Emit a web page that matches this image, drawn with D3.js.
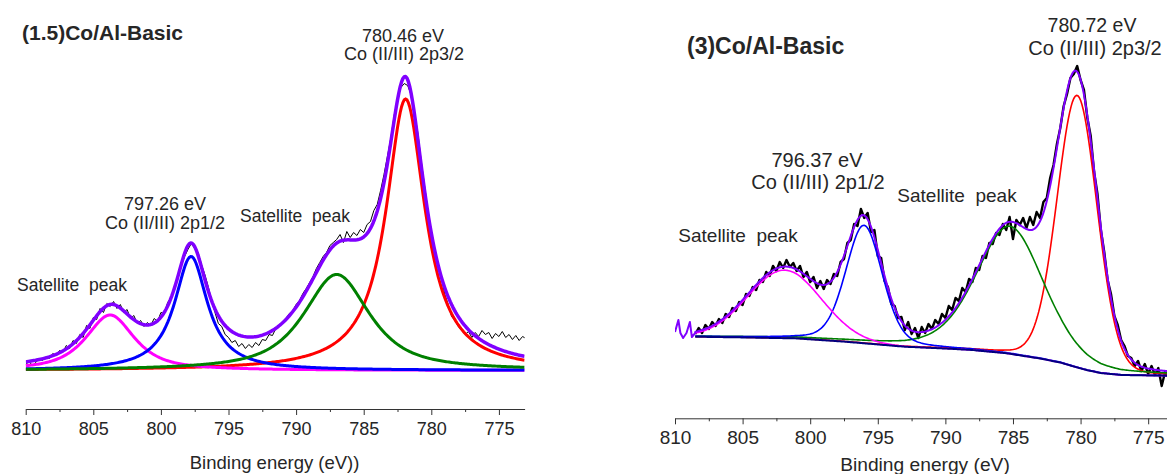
<!DOCTYPE html>
<html>
<head>
<meta charset="utf-8">
<script src="https://cdn.jsdelivr.net/npm/d3@7"></script>
<style>
  html, body { margin: 0; padding: 0; background: #fff; }
  svg { display: block; }
  text { font-family: Arial, "Liberation Sans", sans-serif; fill: #262626; }
</style>
</head>
<body>
<svg id="chart" width="1167" height="474"></svg>
<script>
// ---------- data ----------
var tickEnergies = [810, 805, 800, 795, 790, 785, 780, 775];
var minorEnergies = [807.5, 802.5, 797.5, 792.5, 787.5, 782.5, 777.5];
var rawStep = 0.25;

// (1.5)Co/Al-Basic : measured counts, 810 -> 773 eV every 0.25 eV
var leftRawStart = 810;
var leftRaw = [
  6, 9, 5, 8, 12, 10, 14, 12,
  17, 15, 20, 18, 25, 22, 30, 27,
  36, 33, 45, 42, 53, 51, 62, 58,
  67, 64, 69, 62, 66, 58, 61, 52,
  55, 47, 50, 44, 48, 45, 52, 49,
  58, 57, 68, 73, 84, 92, 104, 114,
  121, 127, 122, 118, 106, 96, 84, 70,
  58, 47, 44, 36, 33, 28, 30, 24,
  27, 22, 26, 23, 28, 25, 31, 30,
  36, 35, 42, 44, 48, 52, 57, 60,
  66, 70, 77, 82, 88, 94, 102, 108,
  114, 118, 125, 128, 131, 136, 128, 139,
  133, 138, 135, 141, 138, 146, 149, 160,
  166, 180, 196, 214, 232, 255, 272, 283,
  287, 285, 276, 258, 238, 210, 185, 160,
  140, 122, 104, 92, 76, 66, 54, 50,
  44, 40, 36, 39, 33, 38, 34, 40,
  36, 38, 32, 37, 34, 39, 33, 36,
  31, 35, 30, 34, 32
];
// fitted peaks: 2p3/2, satellite, 2p1/2, satellite
var leftCenters = [781.9, 787.0, 797.77, 803.76];
var leftHeights = [271.5, 96, 114, 55.5];
var leftFwhm = [3.5, 5.8, 2.96, 4.3];
var leftLorentz = [1, 0.8, 1, 0.8];
var leftRange = [810, 773.1];

// (3)Co/Al-Basic : measured counts, 808.5 -> 773.5 eV every 0.25 eV
var rightRawStart = 808.5;
var rightRaw = [
  46, 52, 47, 55, 51, 58, 54, 61,
  57, 66, 63, 72, 69, 78, 75, 86,
  84, 93, 90, 100, 98, 108, 104, 114,
  109, 118, 112, 120, 113, 117, 109, 114,
  103, 108, 98, 103, 92, 99, 91, 100,
  96, 106, 104, 118, 121, 137, 140, 156,
  154, 171, 162, 167, 148, 150, 124, 122,
  99, 93, 76, 74, 62, 63, 50, 58,
  46, 52, 42, 53, 47, 56, 51, 60,
  56, 66, 62, 74, 70, 82, 79, 92,
  88, 101, 98, 112, 110, 124, 122, 137,
  136, 147, 145, 156, 150, 163, 141, 160,
  155, 162, 152, 163, 155, 168, 162, 178,
  182, 202, 215, 236, 252, 274, 286, 302,
  306, 314, 300, 290, 262, 244, 208, 186,
  150, 128, 100, 86, 64, 55, 40, 34,
  24, 22, 14, 19, 9, 16, 6, 14,
  5, 12, -6, 8, 3
];
// unfitted start of the scan (drawn with the envelope colour)
var rightLeadEnergies = [810, 809.75, 809.6, 809.4, 809.15, 808.9, 808.75, 808.5];
var rightLeadValues = [48, 60, 47, 42, 47, 58, 43, 47];
// Shirley background
var rightBgEnergies = [808.6, 805, 801, 797.5, 793, 790, 788, 785.5, 783, 781.5, 780.5, 779.5, 778.5, 777, 773.6];
var rightBgValues = [43.3, 42.6, 41.6, 38.4, 33.3, 31.5, 30, 26.8, 21.5, 17.5, 13.5, 9.8, 7, 5, 4.3];
var rightCenters = [780.25, 785.22, 796.02, 801.9];
var rightHeights = [272, 127.5, 118, 68];
var rightFwhm = [3.5, 5.92, 3.2, 6.4];
var rightLorentz = [0.1, 0.35, 0.25, 0];
var rightRange = [810, 773.6];

// ---------- drawing ----------
var svg = d3.select("#chart");
var peakColors = ["#ff0000", "#008000", "#0000ff", "#ff00ff"];

function pseudoVoigt(e, c, h, w, eta) {
  var t = (e - c) / w;
  return h * (eta / (1 + 4 * t * t) + (1 - eta) * Math.exp(-4 * Math.LN2 * t * t));
}

function drawPanel(p) {
  var x = d3.scaleLinear().domain(p.domain).range(p.xRange);
  var y = d3.scaleLinear().domain(p.yDomain).range(p.yRange);
  var line = d3.line().x(function(d) { return x(d[0]); }).y(function(d) { return y(d[1]); });

  var g = svg.append("g");
  var clipId = "clip" + p.id;
  g.append("clipPath").attr("id", clipId)
    .append("rect")
    .attr("x", p.xRange[0]).attr("y", 0)
    .attr("width", p.xRange[1] - p.xRange[0]).attr("height", p.axisY);
  var plot = g.append("g").attr("clip-path", "url(#" + clipId + ")");

  var raw = p.raw.map(function(v, i) { return [p.rawStart - i * rawStep, v]; });
  var fitE = d3.range(p.fitFrom, p.fitTo - 0.05, -0.1);
  var bg = p.bg || function() { return 0; };

  var comps = p.centers.map(function(c, k) {
    return fitE.map(function(e) {
      return [e, bg(e) + pseudoVoigt(e, c, p.heights[k], p.fwhm[k], p.lorentz[k])];
    });
  });
  var envelope = fitE.map(function(e) {
    var s = bg(e);
    p.centers.forEach(function(c, k) { s += pseudoVoigt(e, c, p.heights[k], p.fwhm[k], p.lorentz[k]); });
    return [e, s];
  });

  // measured spectrum underneath the fit
  plot.append("path").datum(raw)
    .attr("fill", "none").attr("stroke", "#000")
    .attr("stroke-width", p.rawWidth).attr("stroke-linejoin", "round")
    .attr("d", line);

  p.drawOrder.forEach(function(k) {
    plot.append("path").datum(comps[k])
      .attr("fill", "none").attr("stroke", peakColors[k])
      .attr("stroke-width", p.compWidth)
      .attr("d", line);
  });

  var env = envelope;
  if (p.lead) env = p.lead.concat(envelope);
  plot.append("path").datum(env)
    .attr("fill", "none").attr("stroke", "#8000ff")
    .attr("stroke-width", p.envWidth).attr("stroke-linejoin", "round")
    .attr("d", line);

  if (p.bg) {
    plot.append("path").datum(fitE.map(function(e) { return [e, bg(e)]; }))
      .attr("fill", "none").attr("stroke", "#000080")
      .attr("stroke-width", 2)
      .attr("d", line);
  }

  // axis
  var axis = g.append("g").attr("transform", "translate(0," + p.axisY + ")")
    .call(d3.axisBottom(x).tickValues(tickEnergies).tickSize(6).tickSizeOuter(0)
      .tickPadding(p.tickPad).tickFormat(d3.format("d")));
  axis.selectAll("text").style("font-size", p.tickFont + "px").attr("fill", "#262626");
  axis.selectAll("line, path").attr("stroke", "#333");
  var minor = g.append("g").attr("transform", "translate(0," + p.axisY + ")")
    .call(d3.axisBottom(x).tickValues(minorEnergies).tickSize(3).tickFormat(""));
  minor.select(".domain").remove();
  minor.selectAll("line").attr("stroke", "#333");

  g.append("text").attr("x", p.xTitle[0]).attr("y", p.xTitle[1])
    .attr("text-anchor", "middle").style("font-size", p.xTitle[2] + "px")
    .text(p.xLabel);

  g.append("text").attr("x", p.title[0]).attr("y", p.title[1])
    .style("font-size", p.title[2] + "px").style("font-weight", "bold")
    .attr("fill", "#111").text(p.name);

  p.notes.forEach(function(n) {
    g.append("text").attr("x", n[0]).attr("y", n[1])
      .attr("text-anchor", "middle").style("font-size", n[2] + "px")
      .style("white-space", "pre").text(n[3]);
  });
}

drawPanel({
  id: "L", name: "(1.5)Co/Al-Basic",
  domain: leftRange, xRange: [25.7, 524.6],
  yDomain: [0, 300], yRange: [370.5, 70.5],
  raw: leftRaw, rawStart: leftRawStart,
  fitFrom: leftRange[0], fitTo: leftRange[1],
  centers: leftCenters, heights: leftHeights, fwhm: leftFwhm, lorentz: leftLorentz,
  drawOrder: [0, 3, 2, 1],
  rawWidth: 1, compWidth: 3, envWidth: 3.5,
  axisY: 409, tickPad: 7, tickFont: 18,
  xLabel: "Binding energy (eV))", xTitle: [274.6, 469, 18.5],
  title: [22, 40, 21],
  notes: [
    [403, 41.5, 18, "780.46 eV"],
    [404, 60, 18, "Co (II/III) 2p3/2"],
    [165, 210, 18, "797.26 eV"],
    [165, 229, 18, "Co (II/III) 2p1/2"],
    [295, 221.5, 17.5, "Satellite  peak"],
    [72, 291, 17.5, "Satellite  peak"]
  ]
});

drawPanel({
  id: "R", name: "(3)Co/Al-Basic",
  domain: rightRange, xRange: [675, 1167.1],
  yDomain: [0, 320], yRange: [380, 60],
  raw: rightRaw, rawStart: rightRawStart,
  fitFrom: 808.5, fitTo: rightRange[1],
  centers: rightCenters, heights: rightHeights, fwhm: rightFwhm, lorentz: rightLorentz,
  bg: d3.scaleLinear().domain(rightBgEnergies).range(rightBgValues).clamp(true),
  lead: rightLeadEnergies.map(function(e, i) { return [e, rightLeadValues[i]]; }),
  drawOrder: [0, 1, 2, 3],
  rawWidth: 2.4, compWidth: 1.6, envWidth: 2,
  axisY: 418.3, tickPad: 6, tickFont: 19,
  xLabel: "Binding energy (eV)", xTitle: [925, 471, 19.2],
  title: [687, 53.5, 23],
  notes: [
    [1092, 32, 19.5, "780.72 eV"],
    [1095, 55, 20, "Co (II/III) 2p3/2"],
    [817, 166.5, 20, "796.37 eV"],
    [818, 188.5, 20, "Co (II/III) 2p1/2"],
    [957, 201.5, 19, "Satellite  peak"],
    [738, 242, 19, "Satellite  peak"]
  ]
});
</script>
</body>
</html>
